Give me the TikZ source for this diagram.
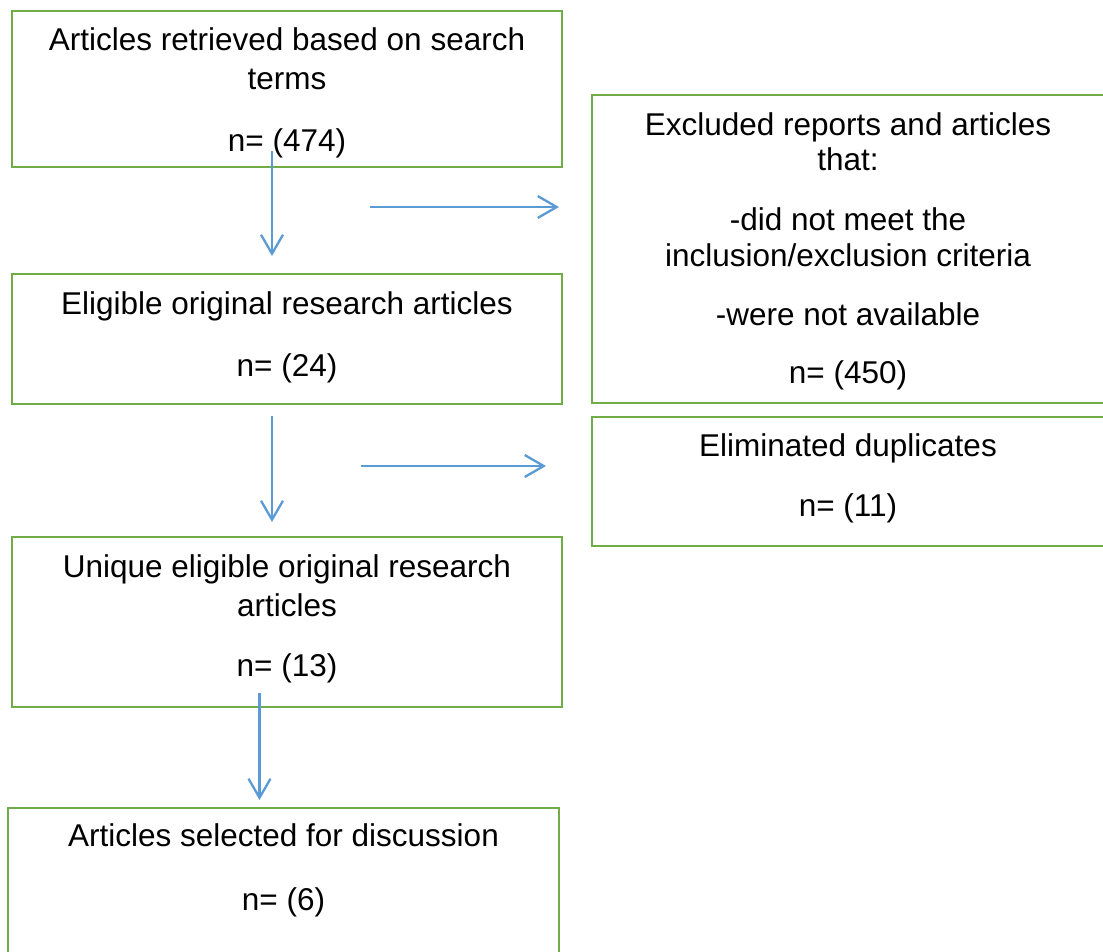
\documentclass[tikz,border=0pt]{standalone}
\usepackage{fontspec}
\setmainfont{Liberation Sans}
\usetikzlibrary{arrows.meta}
\definecolor{boxgreen}{HTML}{70AD47}
\definecolor{flowblue}{HTML}{5B9BD5}
\tikzset{
  stagebox/.style={draw=boxgreen, line width=2.8pt, fill=none, rectangle, inner sep=0pt, outer sep=0pt},
  label/.style={anchor=base, inner sep=0pt, font=\fontsize{31.5}{36}\selectfont},
  flow/.style={draw=flowblue, line width=2.3pt, -{Straight Barb[length=19pt, width=22pt, line width=2.3pt]}}
}
\begin{document}
\begin{tikzpicture}[x=1pt, y=-1pt]
  \useasboundingbox (0,0) rectangle (1103,951);
  \fill[white] (0,0) rectangle (1103,951);

  % main column of stages
  \node[stagebox, minimum width=550pt, minimum height=156pt] (retrieved) at (287,89) {};
  \node[stagebox, minimum width=550pt, minimum height=130pt] (eligible) at (287,339) {};
  \node[stagebox, minimum width=550pt, minimum height=170pt] (unique) at (287,622) {};
  \node[stagebox, minimum width=551pt, minimum height=170pt] (selected) at (283.5,893) {};

  % side column of removed records
  \node[stagebox, minimum width=513pt, minimum height=308pt] (excluded) at (848.5,249) {};
  \node[stagebox, minimum width=513pt, minimum height=129pt] (duplicates) at (848.5,481.5) {};

  % texts
  \node[label] (retrieved1) at (287,50) {Articles retrieved based on search};
  \node[label] (retrieved2) at (287,89) {terms};
  \node[label] (retrieved3) at (287,151) {n= (474)};

  \node[label] (eligible1) at (287,314) {Eligible original research articles};
  \node[label] (eligible2) at (287,376.5) {n= (24)};

  \node[label] (unique1) at (287,577.5) {Unique eligible original research};
  \node[label] (unique2) at (287,616.5) {articles};
  \node[label] (unique3) at (287,676.5) {n= (13)};

  \node[label] (selected1) at (283.5,846.5) {Articles selected for discussion};
  \node[label] (selected2) at (283.5,910) {n= (6)};

  \node[label] (excluded1) at (848,135) {Excluded reports and articles};
  \node[label] (excluded2) at (848,170.5) {that:};
  \node[label] (excluded3) at (848,230) {-did not meet the};
  \node[label] (excluded4) at (848,266.5) {inclusion/exclusion criteria};
  \node[label] (excluded5) at (848,325) {-were not available};
  \node[label] (excluded6) at (848,383) {n= (450)};

  \node[label] (duplicates1) at (848,456.5) {Eliminated duplicates};
  \node[label] (duplicates2) at (848,516.5) {n= (11)};

  % arrow end points
  \coordinate (down1s) at (272,151);
  \coordinate (down1e) at (272,256);
  \coordinate (side1s) at (370,207);
  \coordinate (side1e) at (559,207);
  \coordinate (down2s) at (272,416);
  \coordinate (down2e) at (272,522);
  \coordinate (side2s) at (361,466);
  \coordinate (side2e) at (546,466);
  \coordinate (down3s) at (259.5,693);
  \coordinate (down3e) at (259.5,800);

  % arrows
  \draw[flow] (down1s) -- (down1e);
  \draw[flow] (side1s) -- (side1e);
  \draw[flow] (down2s) -- (down2e);
  \draw[flow] (side2s) -- (side2e);
  \draw[flow] (down3s) -- (down3e);
\end{tikzpicture}
\end{document}
